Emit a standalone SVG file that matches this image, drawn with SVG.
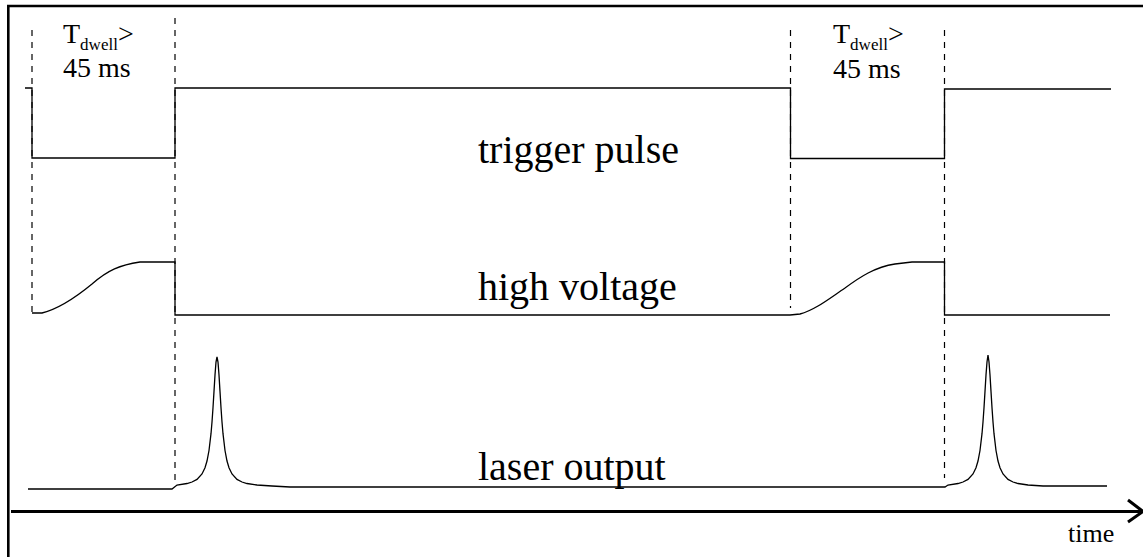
<svg xmlns="http://www.w3.org/2000/svg" width="1143" height="557" viewBox="0 0 1143 557">
<style>
.sig{fill:none;stroke:#000;stroke-width:1.3;stroke-linejoin:miter}
.guide{fill:none;stroke:#000;stroke-width:1.2;stroke-dasharray:6 6}
.frame{fill:none;stroke:#000;stroke-width:2.6}
text{font-family:'Liberation Serif','Times New Roman',Tinos,'DejaVu Serif','Noto Serif',serif;fill:#000}
.big{font-size:40px}
.lab{font-size:28px}
.sub{font-size:17px}
.time{font-size:26px}
</style>
<rect width="1143" height="557" fill="#fff"/>
<g id="frame">
<path class="frame" d="M8.3,557 L8.3,6 L1143,6"/>
</g>
<g id="time-axis">
<path d="M11,511.5 L1141,511.5" stroke="#000" stroke-width="3" fill="none"/>
<path d="M1128,500 L1143,511.5 L1128,522" stroke="#000" stroke-width="3" fill="none"/>
<text class="time" x="1068" y="542">time</text>
</g>
<g id="connectors">
<line class="guide" x1="32" y1="30" x2="32" y2="318"/>
<line class="guide" x1="175" y1="18" x2="175" y2="486"/>
<line class="guide" x1="790.5" y1="30" x2="790.5" y2="308"/>
<line class="guide" x1="944.5" y1="30" x2="944.5" y2="478"/>
</g>
<g id="trigger-pulse">
<path class="sig" d="M25,88 L32,88 L32,158 L175,158 L175,88 L790.5,88 L790.5,158.5 L944.5,158.5 L944.5,89 L1111,89"/>
<text class="big" x="478" y="163">trigger pulse</text>
</g>
<g id="high-voltage">
<path class="sig" d="M32,313 L42,313 C58,309 75,298 92,284 C108,270 120,265 140,262 L175,262 L175,315 L790,315 L800,314 C815,310 830,298 845,288 C860,277 875,267 895,264 L912,262 L944.5,262 L944.5,315 L1110,315"/>
<text class="big" x="478" y="300">high voltage</text>
</g>
<g id="laser-output">
<path class="sig" d="M28,489 L172,489 L177,485 L187,483.5 L192,482 L197,479.4 L202,474 L205,467.8 L207,461 L209,450.5 L211,433.7 L212,422 L213,407.7 L214,391.4 L215,375 L216,362 L217,357 L218,362 L219,375 L220,391.4 L221,407.7 L222,422 L223,433.7 L225,450.5 L227,461 L229,467.8 L232,474 L237,479.4 L242,482 L247,483.5 L257,485 L272,486 L290,487 L945,487 L948,485 L958,483.5 L963,482 L968,479.4 L973,474 L976,467.8 L978,461 L980,450.5 L982,433.7 L983,422 L984,407.7 L985,391.4 L986,375 L987,362 L988,355 L989,362 L990,375 L991,391.4 L992,407.7 L993,422 L994,433.7 L996,450.5 L998,461 L1000,467.8 L1003,474 L1008,479.4 L1013,482 L1018,483.5 L1028,485 L1043,486 L1107,486"/>
<text class="big" x="478" y="480">laser output</text>
</g>
<g id="dwell-label-1">
<text class="lab" x="63" y="43">T<tspan class="sub" y="50">dwell</tspan><tspan y="43">&gt;</tspan></text>
<text class="lab" x="63" y="77">45 ms</text>
</g>
<g id="dwell-label-2">
<text class="lab" x="833" y="43">T<tspan class="sub" y="50">dwell</tspan><tspan y="43">&gt;</tspan></text>
<text class="lab" x="833" y="78">45 ms</text>
</g>
</svg>
